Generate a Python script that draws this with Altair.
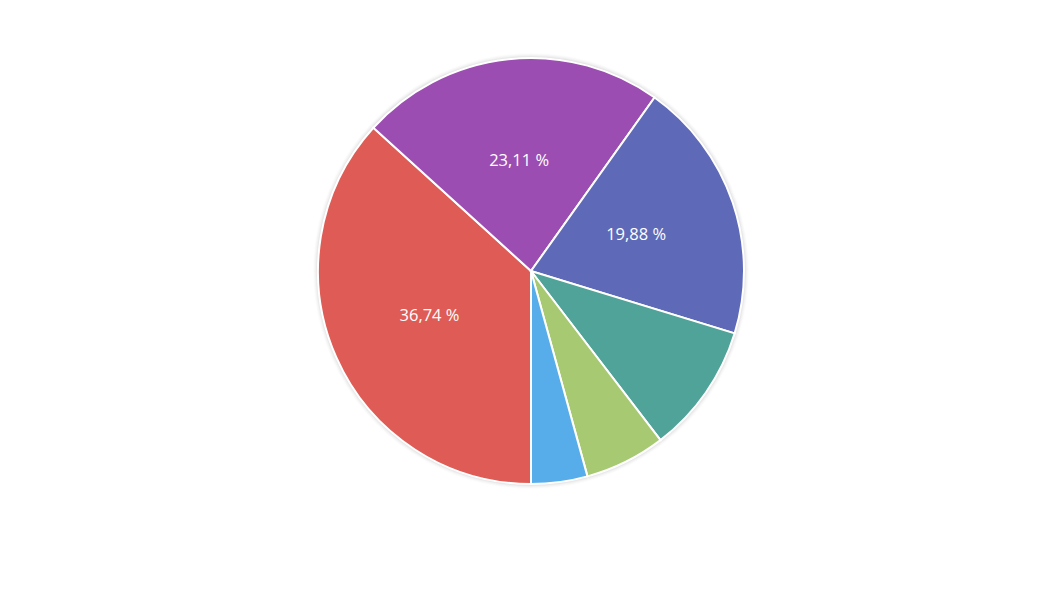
import altair as alt
import pandas as pd

categories = ["A", "B", "C", "D", "E", "F"]
values = [36.74, 23.11, 19.88, 9.87, 6.13, 4.27]
labels = ["36,74 %", "23,11 %", "19,88 %", "", "", ""]
colors = ["#DE5C55", "#9C4DB2", "#5E6AB8", "#50A398", "#A6C971", "#57ADEA"]

df = pd.DataFrame({"cat": categories, "value": values, "label": labels,
                   "order": list(range(len(categories)))})

cx, cy, R = 523, 263, 213

theta = alt.Theta("value:Q", stack=True, scale=alt.Scale(range=[3.14159265, 3 * 3.14159265]))
order = alt.Order("order:Q")
base = alt.Chart(df).encode(theta=theta, order=order, x=alt.value(cx), y=alt.value(cy))

shadows = [
    base.mark_arc(outerRadius=R + r, color="#000000", opacity=o, stroke=None)
    for r, o in [(5, 0.012), (4, 0.018), (3, 0.025), (2, 0.035), (1, 0.05)]
]

pie = base.mark_arc(outerRadius=R, stroke="white", strokeWidth=2).encode(
    color=alt.Color("cat:N", scale=alt.Scale(domain=categories, range=colors), legend=None)
)

text = base.mark_text(radius=111, fontSize=16.5, font="Open Sans", color="white").encode(
    text="label:N"
)

chart = alt.layer(*shadows, pie, text).properties(
    width=1048, height=584, autosize=alt.AutoSizeParams(type="none"), padding=0
).configure_view(stroke=None)

chart.save("out.html", embed_options={"renderer": "svg", "actions": False})
